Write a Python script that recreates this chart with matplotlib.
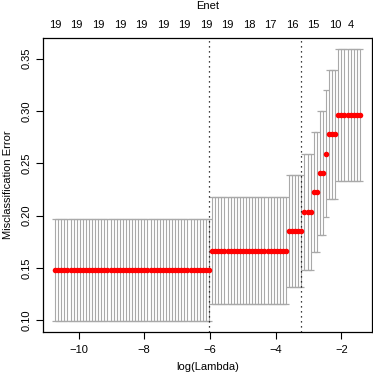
import numpy as np
import matplotlib
matplotlib.use("Agg")
import matplotlib.pyplot as plt

plt.rcParams['font.family'] = ['Liberation Sans', 'DejaVu Sans']

# log(lambda) grid, 100 evenly spaced values (ends)
loglam_first = -10.71
loglam_last = -1.44
n_lambda = 100

# runs of equal cv error, left to right
grp_size = [51, 25, 5, 3, 2, 2, 1, 3, 8]
grp_err = [0.1481, 0.1667, 0.1852, 0.2037, 0.2222, 0.2407, 0.2593, 0.2778, 0.2963]
grp_sd = [0.0487, 0.0511, 0.0534, 0.0556, 0.0573, 0.0590, 0.0603, 0.0617, 0.0629]

# top axis: lambda index and number of nonzero coefficients
nz_idx = [0, 7, 14, 21, 28, 35, 42, 49, 56, 63, 70, 77, 84, 91, 96]
nz_lab = ['19'] * 9 + ['18', '17', '16', '15', '10', '4']

# lambda.min / lambda.1se
idx_min = 50
idx_1se = 80

loglam = np.linspace(loglam_first, loglam_last, n_lambda)
cvm = np.repeat(grp_err, grp_size)
cvsd = np.repeat(grp_sd, grp_size)
cvup = cvm + cvsd
cvlo = cvm - cvsd

W, H = 373, 374
fig = plt.figure(figsize=(W / 100, H / 100), dpi=100)
ax = fig.add_axes([43 / W, 1 - 332 / H, (372 - 43) / W, (332 - 38) / H])

fs = 8
barw = 0.01 * (loglam.max() - loglam.min())
ax.vlines(loglam, cvlo, cvup, color='darkgrey', lw=0.8)
ax.hlines(cvup, loglam - barw, loglam + barw, color='darkgrey', lw=0.9)
ax.hlines(cvlo, loglam - barw, loglam + barw, color='darkgrey', lw=0.9)
ax.plot(loglam, cvm, 'o', color='red', ms=4, mec='none', zorder=3)

ax.axvline(loglam[idx_min], color='black', ls=(0, (1, 3)), lw=0.9)
ax.axvline(loglam[idx_1se], color='black', ls=(0, (1, 3)), lw=0.9)

# R style 4% padding
xr = loglam.max() - loglam.min()
ax.set_xlim(loglam.min() - 0.04 * xr, loglam.max() + 0.04 * xr)
yr = cvup.max() - cvlo.min()
ax.set_ylim(cvlo.min() - 0.04 * yr, cvup.max() + 0.04 * yr)

ax.set_xticks([-10, -8, -6, -4, -2])
ax.set_xticklabels(['\u221210', '\u22128', '\u22126', '\u22124', '\u22122'])
ax.set_yticks([0.10, 0.15, 0.20, 0.25, 0.30, 0.35])
ax.set_yticklabels(['0.10', '0.15', '0.20', '0.25', '0.30', '0.35'])
ax.tick_params(length=5, width=0.8, labelsize=fs, color='black')
ax.tick_params(axis='x', pad=4.5)
ax.tick_params(axis='y', pad=3)
plt.setp(ax.get_yticklabels(), rotation=90, va='center')
for s in ax.spines.values():
    s.set_linewidth(0.9)

trans = ax.get_xaxis_transform()
for i, lab in zip(nz_idx, nz_lab):
    ax.text(loglam[i], 1 + 13 / 294, lab, transform=trans, ha='center', va='center', fontsize=fs)

fig.text(207.5 / W, 1 - 6 / H, 'Enet', ha='center', va='center', fontsize=fs)
fig.text(207.5 / W, 1 - 367 / H, 'log(Lambda)', ha='center', va='center', fontsize=fs)
fig.text(8 / W, 1 - 185 / H, 'Misclassification Error', ha='center', va='center', rotation=90, fontsize=fs)

fig.savefig('out.png', dpi=100)
